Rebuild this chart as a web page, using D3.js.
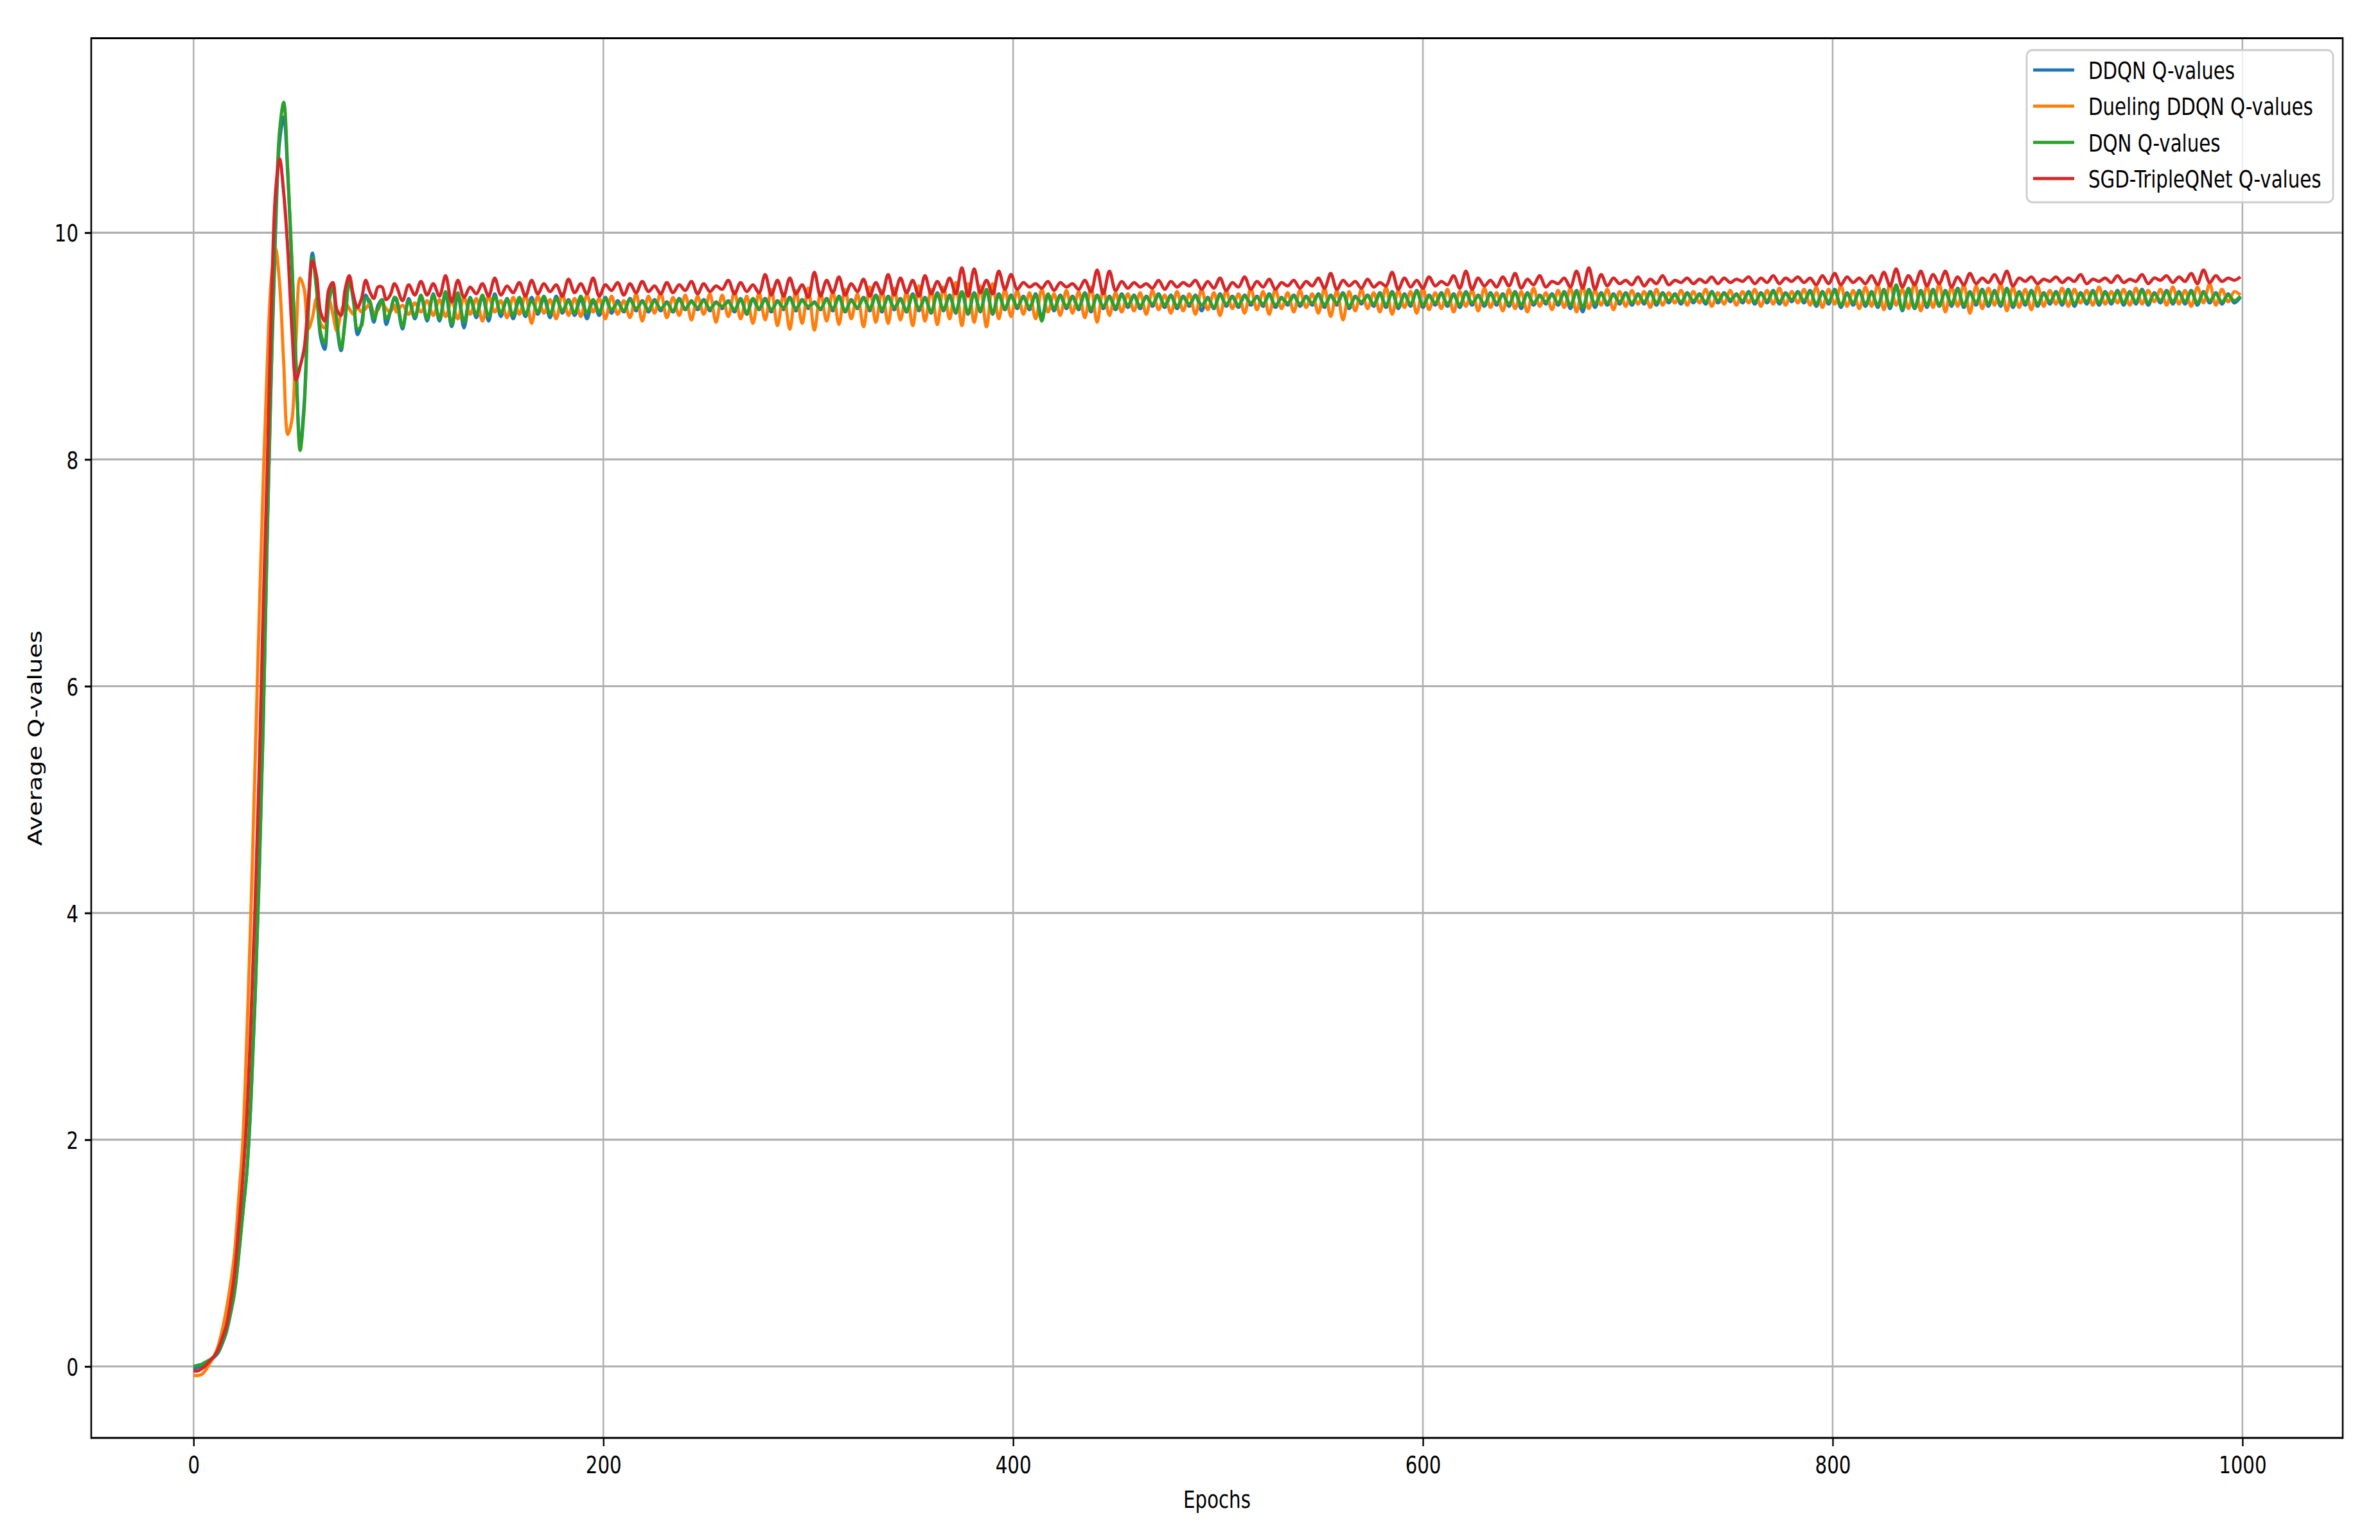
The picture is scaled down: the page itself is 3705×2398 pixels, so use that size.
<!DOCTYPE html>
<html><head><meta charset="utf-8">
<script src="https://cdn.jsdelivr.net/npm/d3@7"></script>
<style>html,body{margin:0;padding:0;background:#fff;} svg{display:block;}</style>
</head><body>
<svg id="chart" width="3705" height="2398"></svg>
<script>
// ---------------- DATA ----------------
const seriesNames = ["DDQN Q-values", "Dueling DDQN Q-values", "DQN Q-values", "SGD-TripleQNet Q-values"];
const seriesColors = ["#1f77b4", "#ff7f0e", "#2ca02c", "#d62728"];
const xTicks = [0, 200, 400, 600, 800, 1000];
const yTicks = [0, 2, 4, 6, 8, 10];
const xLabel = "Epochs";
const yLabel = "Average Q-values";
// sample epochs: every 2 epochs up to 98, then every 3 epochs 99..999
const epochs = [...d3.range(0, 100, 2), ...d3.range(99, 1000, 3)];

const ddqnQ = [
-0.02,-0.01,0.01,0.03,0.05,0.08,0.12,0.20,0.30,0.46,
0.65,0.97,1.34,1.71,2.33,3.22,4.30,5.65,7.35,8.80,
10.00,10.80,11.02,10.50,9.70,8.85,8.12,8.50,9.35,9.82,
9.52,9.08,8.97,9.38,9.52,9.16,8.96,9.25,9.58,9.40,
9.10,9.20,9.45,9.36,9.21,9.36,9.41,9.19,9.30,9.42,
9.40,9.15,9.42,9.24,9.44,9.22,9.46,9.22,9.46,9.17,
9.45,9.16,9.43,9.25,9.44,9.22,9.46,9.26,9.42,9.24,
9.41,9.26,9.43,9.28,9.42,9.25,9.44,9.29,9.41,9.27,
9.42,9.24,9.40,9.27,9.43,9.29,9.40,9.30,9.42,9.31,
9.40,9.30,9.41,9.31,9.39,9.30,9.42,9.32,9.40,9.32,
9.41,9.31,9.39,9.33,9.40,9.30,9.42,9.28,9.41,9.32,
9.42,9.30,9.40,9.32,9.43,9.31,9.41,9.33,9.39,9.32,
9.42,9.31,9.44,9.30,9.41,9.33,9.43,9.31,9.45,9.30,
9.44,9.32,9.42,9.30,9.46,9.31,9.43,9.29,9.47,9.31,
9.45,9.29,9.47,9.28,9.47,9.30,9.49,9.28,9.46,9.32,
9.45,9.33,9.44,9.32,9.46,9.25,9.45,9.31,9.45,9.33,
9.44,9.32,9.47,9.30,9.45,9.33,9.44,9.32,9.46,9.34,
9.45,9.33,9.44,9.35,9.46,9.34,9.45,9.33,9.44,9.35,
9.45,9.31,9.43,9.33,9.46,9.35,9.44,9.34,9.45,9.36,
9.44,9.35,9.46,9.34,9.43,9.36,9.45,9.35,9.44,9.36,
9.46,9.34,9.45,9.36,9.47,9.33,9.44,9.37,9.45,9.35,
9.47,9.34,9.48,9.33,9.46,9.35,9.49,9.34,9.45,9.36,
9.47,9.35,9.46,9.34,9.48,9.36,9.45,9.35,9.47,9.36,
9.46,9.35,9.48,9.33,9.47,9.36,9.45,9.37,9.46,9.36,
9.48,9.33,9.49,9.30,9.50,9.34,9.47,9.36,9.46,9.37,
9.47,9.36,9.46,9.37,9.48,9.36,9.47,9.38,9.46,9.37,
9.47,9.38,9.46,9.37,9.48,9.38,9.47,9.39,9.46,9.38,
9.48,9.37,9.47,9.38,9.49,9.37,9.47,9.39,9.48,9.38,
9.49,9.35,9.48,9.37,9.50,9.34,9.47,9.36,9.49,9.35,
9.48,9.34,9.50,9.33,9.53,9.31,9.50,9.33,9.49,9.34,
9.50,9.35,9.49,9.35,9.51,9.34,9.48,9.36,9.50,9.35,
9.49,9.35,9.51,9.34,9.48,9.36,9.49,9.35,9.47,9.37,
9.48,9.36,9.50,9.35,9.47,9.37,9.49,9.36,9.48,9.37,
9.49,9.36,9.48,9.37,9.50,9.36,9.47,9.38,9.49,9.37,
9.48,9.37,9.49,9.36,9.48,9.38,9.47,9.37,9.46,9.38,
9.43
];

const duelingQ = [
-0.08,-0.08,-0.07,-0.03,0.03,0.09,0.18,0.32,0.50,0.72,
1.00,1.47,1.97,2.90,4.00,5.30,6.60,7.80,8.85,9.60,
9.86,9.55,8.85,8.22,8.35,9.05,9.60,9.50,9.15,9.25,
9.42,9.20,9.16,9.42,9.28,9.13,9.30,9.38,9.33,9.28,
9.34,9.30,9.33,9.37,9.30,9.32,9.38,9.33,9.30,9.36,
9.30,9.36,9.28,9.38,9.30,9.40,9.27,9.41,9.26,9.40,
9.24,9.43,9.28,9.42,9.22,9.44,9.30,9.40,9.25,9.43,
9.28,9.45,9.20,9.44,9.29,9.41,9.24,9.46,9.27,9.42,
9.26,9.45,9.30,9.42,9.24,9.44,9.28,9.40,9.25,9.46,
9.22,9.44,9.29,9.47,9.25,9.43,9.27,9.45,9.23,9.44,
9.28,9.46,9.21,9.45,9.26,9.48,9.24,9.44,9.20,9.47,
9.23,9.50,9.18,9.46,9.15,9.49,9.20,9.51,9.14,9.47,
9.22,9.48,9.19,9.50,9.24,9.46,9.17,9.52,9.21,9.49,
9.20,9.51,9.23,9.48,9.18,9.53,9.22,9.50,9.19,9.52,
9.24,9.56,9.18,9.55,9.21,9.53,9.17,9.55,9.24,9.50,
9.26,9.49,9.28,9.47,9.24,9.50,9.30,9.46,9.27,9.49,
9.29,9.48,9.25,9.52,9.21,9.50,9.27,9.47,9.30,9.46,
9.31,9.47,9.28,9.49,9.32,9.45,9.29,9.48,9.31,9.46,
9.28,9.50,9.32,9.47,9.27,9.49,9.33,9.46,9.29,9.51,
9.32,9.48,9.28,9.50,9.33,9.47,9.30,9.49,9.34,9.46,
9.29,9.51,9.26,9.49,9.23,9.48,9.31,9.50,9.33,9.47,
9.30,9.52,9.28,9.49,9.34,9.48,9.29,9.51,9.32,9.47,
9.33,9.50,9.30,9.48,9.35,9.49,9.31,9.51,9.34,9.47,
9.31,9.50,9.33,9.48,9.30,9.51,9.35,9.47,9.32,9.49,
9.34,9.51,9.30,9.53,9.33,9.49,9.36,9.50,9.32,9.48,
9.35,9.49,9.37,9.48,9.34,9.50,9.36,9.47,9.38,9.49,
9.36,9.48,9.38,9.50,9.35,9.47,9.37,9.49,9.36,9.48,
9.38,9.50,9.35,9.49,9.37,9.51,9.36,9.48,9.38,9.50,
9.36,9.52,9.34,9.50,9.37,9.53,9.35,9.49,9.33,9.52,
9.35,9.54,9.32,9.55,9.36,9.50,9.33,9.56,9.31,9.53,
9.34,9.55,9.30,9.52,9.35,9.54,9.29,9.53,9.33,9.51,
9.36,9.55,9.31,9.52,9.34,9.50,9.32,9.53,9.35,9.49,
9.37,9.51,9.35,9.50,9.38,9.49,9.36,9.52,9.37,9.48,
9.38,9.50,9.36,9.51,9.37,9.49,9.39,9.50,9.36,9.52,
9.37,9.49,9.35,9.52,9.38,9.55,9.36,9.50,9.39,9.48,
9.45
];

const dqnQ = [
0.00,0.01,0.02,0.04,0.06,0.09,0.13,0.21,0.31,0.47,
0.66,0.98,1.35,1.72,2.35,3.25,4.35,5.70,7.40,8.85,
10.10,10.90,11.15,10.55,9.75,8.85,8.08,8.45,9.30,9.78,
9.50,9.12,9.02,9.40,9.52,9.20,8.98,9.22,9.57,9.42,
9.15,9.18,9.42,9.40,9.24,9.33,9.41,9.24,9.30,9.43,
9.42,9.17,9.40,9.26,9.45,9.24,9.45,9.24,9.48,9.19,
9.47,9.21,9.42,9.28,9.45,9.26,9.44,9.29,9.41,9.27,
9.43,9.28,9.40,9.30,9.44,9.28,9.42,9.31,9.40,9.29,
9.44,9.29,9.41,9.30,9.42,9.32,9.38,9.31,9.41,9.33,
9.39,9.32,9.40,9.33,9.38,9.31,9.41,9.33,9.39,9.34,
9.40,9.33,9.38,9.35,9.39,9.32,9.41,9.29,9.42,9.33,
9.41,9.32,9.39,9.34,9.42,9.33,9.40,9.35,9.38,9.33,
9.41,9.33,9.43,9.31,9.40,9.34,9.42,9.33,9.44,9.32,
9.43,9.34,9.41,9.31,9.45,9.33,9.42,9.30,9.46,9.32,
9.44,9.30,9.48,9.29,9.46,9.31,9.50,9.29,9.45,9.33,
9.44,9.35,9.43,9.34,9.45,9.22,9.46,9.33,9.44,9.35,
9.43,9.34,9.46,9.32,9.44,9.35,9.43,9.34,9.45,9.36,
9.44,9.35,9.43,9.37,9.45,9.36,9.44,9.35,9.43,9.37,
9.44,9.36,9.42,9.34,9.45,9.37,9.43,9.36,9.44,9.38,
9.43,9.37,9.45,9.36,9.42,9.38,9.44,9.37,9.43,9.38,
9.45,9.36,9.44,9.38,9.46,9.35,9.43,9.39,9.44,9.37,
9.46,9.36,9.47,9.35,9.45,9.37,9.48,9.36,9.44,9.38,
9.46,9.37,9.45,9.36,9.47,9.38,9.44,9.37,9.46,9.38,
9.45,9.37,9.47,9.36,9.46,9.38,9.44,9.39,9.45,9.38,
9.47,9.36,9.48,9.34,9.49,9.37,9.46,9.38,9.45,9.39,
9.46,9.38,9.45,9.39,9.47,9.38,9.46,9.40,9.45,9.39,
9.46,9.40,9.45,9.39,9.47,9.40,9.46,9.41,9.45,9.40,
9.47,9.39,9.46,9.40,9.48,9.39,9.46,9.41,9.47,9.40,
9.48,9.37,9.47,9.39,9.49,9.36,9.46,9.38,9.48,9.37,
9.47,9.36,9.49,9.35,9.54,9.32,9.51,9.34,9.48,9.36,
9.49,9.36,9.48,9.37,9.50,9.36,9.47,9.38,9.49,9.37,
9.48,9.37,9.50,9.36,9.47,9.38,9.48,9.37,9.46,9.39,
9.47,9.38,9.49,9.37,9.46,9.39,9.48,9.38,9.47,9.39,
9.48,9.38,9.47,9.39,9.49,9.38,9.46,9.40,9.48,9.39,
9.47,9.39,9.48,9.38,9.47,9.40,9.46,9.39,9.45,9.40,
9.44
];

const tripleQ = [
-0.04,-0.04,-0.02,0.01,0.05,0.09,0.15,0.25,0.36,0.56,
0.82,1.22,1.65,2.20,3.05,4.05,5.25,6.70,7.95,9.35,
10.35,10.65,10.35,9.85,9.15,8.70,8.82,8.98,9.40,9.75,
9.62,9.30,9.22,9.50,9.56,9.32,9.27,9.50,9.62,9.45,
9.34,9.42,9.58,9.48,9.42,9.52,9.52,9.41,9.45,9.55,
9.53,9.40,9.54,9.45,9.57,9.45,9.55,9.44,9.62,9.39,
9.58,9.43,9.52,9.46,9.55,9.44,9.60,9.45,9.53,9.47,
9.56,9.44,9.58,9.46,9.55,9.48,9.54,9.44,9.59,9.47,
9.55,9.46,9.60,9.44,9.54,9.49,9.56,9.45,9.55,9.47,
9.57,9.48,9.53,9.46,9.56,9.47,9.54,9.49,9.57,9.46,
9.55,9.48,9.53,9.50,9.58,9.46,9.56,9.48,9.54,9.47,
9.63,9.45,9.58,9.44,9.60,9.46,9.54,9.43,9.65,9.44,
9.58,9.47,9.61,9.45,9.55,9.48,9.59,9.44,9.56,9.46,
9.63,9.45,9.60,9.47,9.58,9.44,9.62,9.46,9.57,9.48,
9.60,9.46,9.69,9.44,9.68,9.47,9.58,9.46,9.66,9.50,
9.63,9.50,9.56,9.52,9.55,9.51,9.57,9.49,9.56,9.52,
9.55,9.50,9.58,9.48,9.67,9.46,9.66,9.49,9.57,9.51,
9.56,9.52,9.55,9.51,9.58,9.50,9.57,9.52,9.56,9.53,
9.58,9.50,9.57,9.51,9.60,9.49,9.56,9.52,9.61,9.50,
9.57,9.52,9.59,9.50,9.56,9.53,9.58,9.51,9.57,9.53,
9.60,9.51,9.64,9.50,9.58,9.53,9.57,9.51,9.59,9.52,
9.56,9.53,9.65,9.50,9.60,9.52,9.58,9.51,9.61,9.53,
9.57,9.54,9.62,9.51,9.66,9.50,9.60,9.53,9.58,9.52,
9.61,9.53,9.64,9.51,9.59,9.54,9.62,9.52,9.57,9.55,
9.60,9.52,9.66,9.51,9.69,9.50,9.63,9.53,9.60,9.55,
9.58,9.54,9.61,9.53,9.59,9.55,9.62,9.54,9.58,9.56,
9.60,9.55,9.59,9.56,9.61,9.55,9.60,9.56,9.59,9.57,
9.61,9.55,9.60,9.56,9.62,9.55,9.60,9.57,9.61,9.56,
9.60,9.54,9.62,9.55,9.64,9.54,9.61,9.56,9.60,9.55,
9.62,9.54,9.65,9.53,9.68,9.52,9.62,9.54,9.66,9.53,
9.63,9.55,9.66,9.52,9.61,9.54,9.64,9.55,9.60,9.56,
9.63,9.55,9.66,9.53,9.60,9.57,9.61,9.55,9.59,9.57,
9.61,9.56,9.60,9.57,9.63,9.55,9.59,9.57,9.60,9.56,
9.62,9.56,9.59,9.57,9.63,9.55,9.60,9.58,9.62,9.56,
9.61,9.57,9.64,9.55,9.67,9.56,9.62,9.57,9.60,9.58,
9.61
];

const seriesValues = [ddqnQ, duelingQ, dqnQ, tripleQ];

// ---------------- LAYOUT ----------------
const W = 3705, H = 2398;
const L = 142, R = 3647, T = 59.5, B = 2239;
const SX = 0.77;          // horizontal squeeze of text seen in the reference
const FS = 38;            // font size
const FONT = "DejaVu Sans";

const svg = d3.select("#chart");
svg.append("rect").attr("width", W).attr("height", H).attr("fill", "#fff");

const x = d3.scaleLinear().domain([-49.95, 1048.95]).range([L, R]);
const y = d3.scaleLinear().domain([-0.630, 11.715]).range([B, T]);

// grid
const grid = svg.append("g");
grid.selectAll("line.gx").data(xTicks).join("line")
  .attr("x1", d => x(d)).attr("x2", d => x(d)).attr("y1", T).attr("y2", B)
  .attr("stroke", "#b0b0b0").attr("stroke-width", 2.5);
grid.selectAll("line.gy").data(yTicks).join("line")
  .attr("x1", L).attr("x2", R).attr("y1", d => y(d)).attr("y2", d => y(d))
  .attr("stroke", "#b0b0b0").attr("stroke-width", 3.2);

// lines
const line = d3.line().curve(d3.curveCatmullRom.alpha(0.5))
  .x((d, i) => x(epochs[i])).y(d => y(d));
svg.append("g").selectAll("path").data(seriesValues).join("path")
  .attr("d", d => line(d))
  .attr("fill", "none")
  .attr("stroke", (d, i) => seriesColors[i])
  .attr("stroke-width", 5)
  .attr("stroke-linejoin", "round")
  .attr("stroke-linecap", "butt");

// spines
const sp = svg.append("g").attr("stroke", "#000");
sp.append("line").attr("x1", L).attr("x2", R).attr("y1", T).attr("y2", T).attr("stroke-width", 3);
sp.append("line").attr("x1", L).attr("x2", R).attr("y1", B).attr("y2", B).attr("stroke-width", 3);
sp.append("line").attr("x1", L).attr("x2", L).attr("y1", T - 1.5).attr("y2", B + 1.5).attr("stroke-width", 2.6);
sp.append("line").attr("x1", R).attr("x2", R).attr("y1", T - 1.5).attr("y2", B + 1.5).attr("stroke-width", 2.6);

// x axis
const gx = svg.append("g").attr("transform", `translate(0,${B})`)
  .call(d3.axisBottom(x).tickValues(xTicks).tickSize(13).tickPadding(15).tickFormat(d3.format("d")));
gx.select(".domain").remove();
gx.selectAll(".tick line").attr("stroke", "#000").attr("stroke-width", 2.4);
gx.selectAll(".tick text").attr("font-family", FONT).attr("font-size", FS).attr("fill", "#000")
  .attr("transform", `scale(${SX},1)`);

// y axis
const gy = svg.append("g").attr("transform", `translate(${L},0)`)
  .call(d3.axisLeft(y).tickValues(yTicks).tickSize(10).tickPadding(10).tickFormat(d3.format("d")));
gy.select(".domain").remove();
gy.selectAll(".tick line").attr("stroke", "#000").attr("stroke-width", 3);
gy.selectAll(".tick text").attr("font-family", FONT).attr("font-size", FS).attr("fill", "#000")
  .attr("x", -20 / SX).attr("dy", "0.36em")
  .attr("transform", `scale(${SX},1)`);

// axis labels
svg.append("text").text(xLabel)
  .attr("transform", `translate(${(L + R) / 2},2348) scale(${SX},1)`)
  .attr("text-anchor", "middle").attr("font-family", FONT).attr("font-size", FS).attr("fill", "#000");
svg.append("text").text(yLabel)
  .attr("transform", `translate(65,${(T + B) / 2}) scale(${SX},1) rotate(-90)`)
  .attr("text-anchor", "middle").attr("font-family", FONT).attr("font-size", FS).attr("fill", "#000");

// legend
const lg = svg.append("g");
lg.append("rect").attr("x", 3155).attr("y", 78).attr("width", 477).attr("height", 237)
  .attr("rx", 9).attr("ry", 9)
  .attr("fill", "#fff").attr("fill-opacity", 0.8)
  .attr("stroke", "#cccccc").attr("stroke-width", 2.8);
const rowY = d3.scaleLinear().domain([0, 3]).range([109, 278]);
const items = lg.selectAll("g.item").data(seriesNames).join("g");
items.append("line")
  .attr("x1", 3165).attr("x2", 3229)
  .attr("y1", (d, i) => rowY(i)).attr("y2", (d, i) => rowY(i))
  .attr("stroke", (d, i) => seriesColors[i]).attr("stroke-width", 5);
items.append("text").text(d => d)
  .attr("transform", (d, i) => `translate(3251,${rowY(i) + 14}) scale(${SX},1)`)
  .attr("font-family", FONT).attr("font-size", FS).attr("fill", "#000");
</script>
</body></html>
